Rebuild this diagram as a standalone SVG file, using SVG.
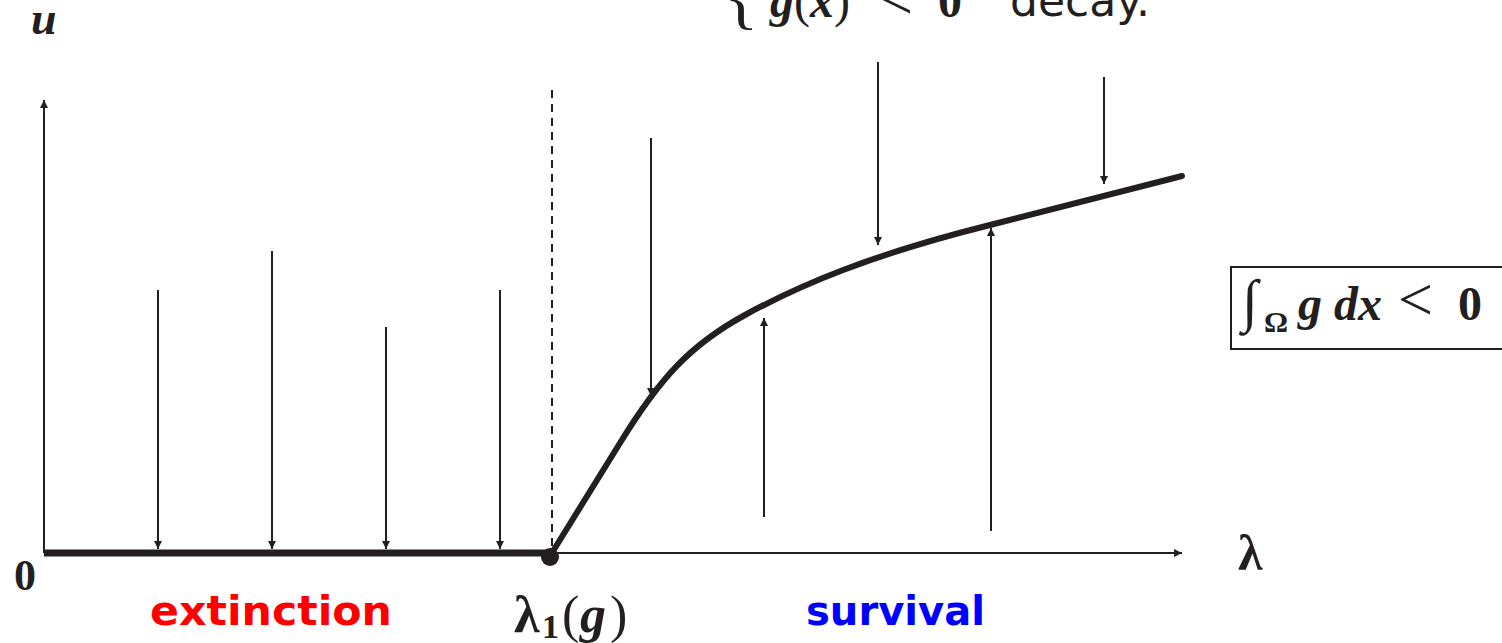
<svg xmlns="http://www.w3.org/2000/svg" width="1502" height="643" viewBox="0 0 1502 643">
<style>
.thin{stroke:#231f20;stroke-width:2;fill:none}
.math{font-family:"Liberation Serif","DejaVu Serif",serif;font-weight:bold;fill:#231f20}
.it{font-style:italic}
.rm{font-weight:normal;font-style:normal}
.sans{font-family:"DejaVu Sans","Liberation Sans",sans-serif;font-weight:bold}
</style>
<defs>
<marker id="ahb" viewBox="0 0 10 10" refX="10" refY="5" markerWidth="10" markerHeight="8" markerUnits="userSpaceOnUse" orient="auto">
<path d="M0,0 L10,5 L0,10 Z" fill="#231f20"/>
</marker>
</defs>
<rect width="1502" height="643" fill="#fff"/>
<g id="axes">
<line class="thin" x1="44" y1="553" x2="44" y2="100" marker-end="url(#ahb)"/>
<line class="thin" x1="44" y1="553" x2="1182" y2="553" marker-end="url(#ahb)"/>
<line x1="552" y1="90" x2="552" y2="548" stroke="#231f20" stroke-width="2" stroke-dasharray="8,6"/>
</g>
<g id="branches">
<line x1="44" y1="553" x2="550" y2="553" stroke="#231f20" stroke-width="7"/>
<path d="M550,556 L620,443 C660,378 690,345 745,315 C800,285 870,255 990,225 L1182,176" fill="none" stroke="#231f20" stroke-width="6" stroke-linecap="round"/>
<circle cx="550" cy="557" r="9" fill="#231f20"/>
</g>
<g id="connectors">
<line class="thin" x1="158" y1="290" x2="158" y2="549" marker-end="url(#ahb)"/>
<line class="thin" x1="272" y1="251" x2="272" y2="549" marker-end="url(#ahb)"/>
<line class="thin" x1="386" y1="327" x2="386" y2="549" marker-end="url(#ahb)"/>
<line class="thin" x1="500" y1="290" x2="500" y2="549" marker-end="url(#ahb)"/>
<line class="thin" x1="651" y1="138" x2="651" y2="396" marker-end="url(#ahb)"/>
<line class="thin" x1="878" y1="62" x2="878" y2="245" marker-end="url(#ahb)"/>
<line class="thin" x1="1104" y1="77" x2="1104" y2="184" marker-end="url(#ahb)"/>
<line class="thin" x1="764" y1="517" x2="764" y2="318" marker-end="url(#ahb)"/>
<line class="thin" x1="991" y1="531" x2="991" y2="228" marker-end="url(#ahb)"/>
</g>
<g id="labels">
<text class="math it" x="31" y="34" font-size="46">u</text>
<text class="math" x="14" y="590" font-size="44">0</text>
<text class="math" x="1238" y="570" font-size="50">λ</text>
<text class="sans" x="150" y="625" font-size="41" fill="#ff0000" textLength="242" lengthAdjust="spacingAndGlyphs">extinction</text>
<text class="sans" x="806" y="625" font-size="41" fill="#0000ff" textLength="179" lengthAdjust="spacingAndGlyphs">survival</text>
<text class="math" y="632" font-size="52"><tspan x="514">λ</tspan><tspan font-size="34" x="542" dy="6">1</tspan><tspan class="rm" x="562" dy="-6">(</tspan><tspan class="it" x="580">g</tspan><tspan class="rm" x="610">)</tspan></text>
</g>
<g id="box">
<rect x="1231" y="267" width="280" height="82" fill="none" stroke="#231f20" stroke-width="2"/>
<text class="math" y="320" font-size="48"><tspan class="rm" x="1242" font-size="58">∫</tspan><tspan font-size="30" x="1264" dy="12">Ω</tspan><tspan class="it" x="1298" dy="-12">g</tspan><tspan class="it" x="1334">dx</tspan><tspan class="rm" x="1398" font-size="62">&lt;</tspan><tspan x="1458">0</tspan></text>
</g>
<g id="toptext">
<text class="math rm" x="724" y="20" font-size="72">{</text>
<text class="math it" x="770" y="17" font-size="48">g<tspan class="rm">(</tspan>x<tspan class="rm">)</tspan></text>
<text class="math rm" x="878" y="19" font-size="62">&lt;</text>
<text class="math" x="938" y="17" font-size="48">0</text>
<text x="1010" y="16" font-size="44" font-family="DejaVu Sans,sans-serif" fill="#231f20" textLength="140" lengthAdjust="spacingAndGlyphs">decay.</text>
</g>
</svg>
